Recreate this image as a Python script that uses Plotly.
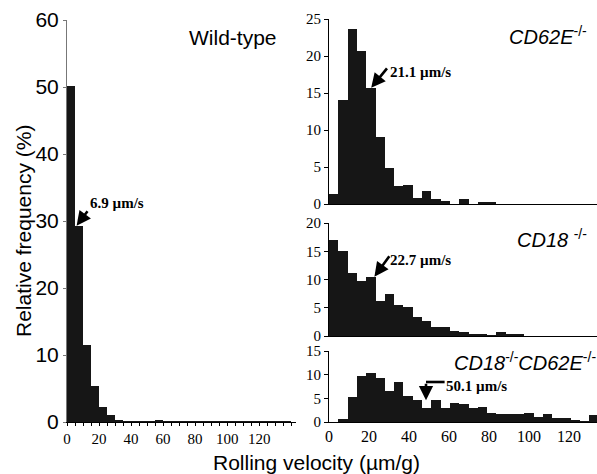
import plotly.graph_objects as go

# ---- data (relative frequency %, per velocity bin) ----
BIN_LEFT = 5.0
BIN_RIGHT = 4.65
wild_type = [50.2, 29.3, 11.5, 5.3, 2.2, 1.1, 0.2, 0.05, 0.05, 0.05, 0.05, 0.3, 0.05, 0.05, 0.05,
             0.05, 0.05, 0.05, 0.05, 0.05, 0.05, 0.05, 0.05, 0.05, 0.05, 0.05, 0.05, 0.05]
cd62e_ko = [1.3, 14.0, 23.7, 20.7, 15.7, 9.0, 4.8, 2.4, 2.6, 0.8, 1.8, 0.7, 0.4, 0.0, 0.7,
            0.0, 0.2, 0.2]
cd18_ko = [17.0, 15.1, 11.2, 9.8, 10.5, 6.2, 7.4, 5.5, 5.2, 3.4, 2.7, 1.6, 1.6, 0.95, 0.7,
           0.3, 0.3, 0.1, 0.7, 0.4, 0.25]
double_ko = [0.0, 0.7, 5.2, 9.7, 10.4, 9.4, 6.5, 8.5, 5.4, 4.6, 3.0, 4.6, 2.9, 4.0, 3.8,
             2.9, 3.1, 2.0, 1.6, 1.6, 1.7, 2.0, 1.0, 1.6, 0.8, 0.8, 0.5, 0.2, 1.5]
x_ticks = [0, 20, 40, 60, 80, 100, 120]
medians = {"wt": 6.9, "cd62e": 21.1, "cd18": 22.7, "double": 50.1}

BAR = "#161616"
SERIF = "Liberation Serif"
SANS = "Liberation Sans"


def centers(vals, w):
    return [w * (i + 0.5) for i in range(len(vals))]


fig = go.Figure()
fig.add_bar(x=centers(wild_type, BIN_LEFT), y=wild_type, width=BIN_LEFT,
            marker=dict(color=BAR, line=dict(width=0)), xaxis="x", yaxis="y")
fig.add_bar(x=centers(cd62e_ko, BIN_RIGHT), y=cd62e_ko, width=BIN_RIGHT,
            marker=dict(color=BAR, line=dict(width=0)), xaxis="x2", yaxis="y2")
fig.add_bar(x=centers(cd18_ko, BIN_RIGHT), y=cd18_ko, width=BIN_RIGHT,
            marker=dict(color=BAR, line=dict(width=0)), xaxis="x3", yaxis="y3")
fig.add_bar(x=centers(double_ko, BIN_RIGHT), y=double_ko, width=BIN_RIGHT,
            marker=dict(color=BAR, line=dict(width=0)), xaxis="x4", yaxis="y4")

W, H = 597, 474
def px_x(p):
    return p / W
def px_y(p):
    return 1 - p / H

xr_dom = [px_x(329), 1.0]
ax_common = dict(showgrid=False, zeroline=False, showline=True, linecolor="black", linewidth=1,
                 automargin=False)

fig.update_layout(
    width=W, height=H, margin=dict(l=0, r=0, t=0, b=0, autoexpand=False),
    paper_bgcolor="white", plot_bgcolor="white", showlegend=False, bargap=0,
    xaxis=dict(ax_common, domain=[px_x(67), px_x(296)], range=[0, 143], anchor="y",
               tickvals=x_ticks, ticks="outside", ticklen=3, tickcolor="black",
               minor=dict(dtick=5, tick0=0, ticks="outside", ticklen=3, tickcolor="black"),
               tickfont=dict(family=SERIF, size=15, color="black")),
    yaxis=dict(ax_common, domain=[px_y(422), px_y(20)], range=[0, 60], anchor="x",
               linecolor="#777", dtick=10, ticks="outside", ticklen=3, tickcolor="#777",
               tickfont=dict(family=SANS, size=21, color="black")),
    xaxis2=dict(ax_common, domain=xr_dom, range=[0, 134], anchor="y2", showticklabels=False),
    yaxis2=dict(ax_common, domain=[px_y(204), px_y(19)], range=[0, 25], anchor="x2",
                dtick=5, ticks="outside", ticklen=4, tickcolor="black",
                tickfont=dict(family=SERIF, size=15, color="black")),
    xaxis3=dict(ax_common, domain=xr_dom, range=[0, 134], anchor="y3", showticklabels=False),
    yaxis3=dict(ax_common, domain=[px_y(336), px_y(223)], range=[0, 20], anchor="x3",
                dtick=5, ticks="outside", ticklen=4, tickcolor="black",
                tickfont=dict(family=SERIF, size=15, color="black")),
    xaxis4=dict(ax_common, domain=xr_dom, range=[0, 134], anchor="y4",
                tickvals=x_ticks, ticks="", tickfont=dict(family=SERIF, size=16, color="black")),
    yaxis4=dict(ax_common, domain=[px_y(422), px_y(351)], range=[0, 15], anchor="x4",
                dtick=5, ticks="outside", ticklen=4, tickcolor="black",
                tickfont=dict(family=SERIF, size=15, color="black")),
)

ann = []
sans21 = dict(family=SANS, size=21, color="black")
sans20 = dict(family=SANS, size=20, color="black")
# axis titles
ann.append(dict(text="Relative frequency (%)", xref="paper", yref="paper", x=px_x(24), y=px_y(231),
                xanchor="center", yanchor="middle", textangle=-90, showarrow=False, font=sans21))
ann.append(dict(text="Rolling velocity (\u00b5m/g)", xref="paper", yref="paper", x=px_x(316), y=px_y(462),
                xanchor="center", yanchor="middle", showarrow=False, font=sans21))
# panel labels
ann.append(dict(text="Wild-type", xref="paper", yref="paper", x=px_x(233), y=px_y(37),
                xanchor="center", yanchor="middle", showarrow=False, font=sans21))
ann.append(dict(text="<i>CD62E</i><sup>-/-</sup>", xref="paper", yref="paper", x=px_x(589), y=px_y(36),
                xanchor="right", yanchor="middle", showarrow=False, font=sans20))
ann.append(dict(text="<i>CD18</i> <sup>-/-</sup>", xref="paper", yref="paper", x=px_x(589), y=px_y(238),
                xanchor="right", yanchor="middle", showarrow=False, font=sans20))
ann.append(dict(text="<i>CD18</i><sup>-/-</sup><i>CD62E</i><sup>-/-</sup>", xref="paper", yref="paper",
                x=px_x(598), y=px_y(361), xanchor="right", yanchor="middle", showarrow=False,
                font=sans20))

lab_font = dict(family=SERIF, size=15, color="black")
arrow_style = dict(showarrow=True, arrowhead=2, arrowsize=1.1, arrowwidth=2.6, arrowcolor="black", text="")

# wild-type median
ann.append(dict(arrow_style, xref="x", yref="y", x=6.0, y=wild_type[1], ax=12, ay=-16))
ann.append(dict(text=f"<b>{medians['wt']} \u00b5m/s</b>", xref="x", yref="y", x=13.0, y=wild_type[1] + 3.4,
                xanchor="left", yanchor="middle", showarrow=False, font=lab_font))
# CD62E median
ann.append(dict(arrow_style, xref="x2", yref="y2", x=medians["cd62e"], y=cd62e_ko[4], ax=17, ay=-21))
ann.append(dict(text=f"<b>{medians['cd62e']} \u00b5m/s</b>", xref="x2", yref="y2", x=29.5, y=17.9,
                xanchor="left", yanchor="middle", showarrow=False, font=lab_font))
# CD18 median
ann.append(dict(arrow_style, xref="x3", yref="y3", x=medians["cd18"], y=cd18_ko[4], ax=16, ay=-22))
ann.append(dict(text=f"<b>{medians['cd18']} \u00b5m/s</b>", xref="x3", yref="y3", x=29.5, y=13.5,
                xanchor="left", yanchor="middle", showarrow=False, font=lab_font))
# double KO median (L-shaped arrow)
ann.append(dict(arrow_style, xref="x4", yref="y4", x=medians["double"] - 1.6, y=4.6, ax=0, ay=-18))
ann.append(dict(text=f"<b>{medians['double']} \u00b5m/s</b>", xref="x4", yref="y4", x=57.5, y=7.6,
                xanchor="left", yanchor="middle", showarrow=False, font=lab_font))
fig.add_shape(type="line", xref="x4", yref="y4", x0=medians["double"] - 1.6, x1=57.8, y0=8.45, y1=8.45,
              line=dict(color="black", width=2.6))

fig.update_layout(annotations=ann)
# remove the browser's default 8px body margin so the figure fills the window exactly
fig.write_html("out.html", config={"displayModeBar": False},
               post_script="document.body.style.margin='0px';")
